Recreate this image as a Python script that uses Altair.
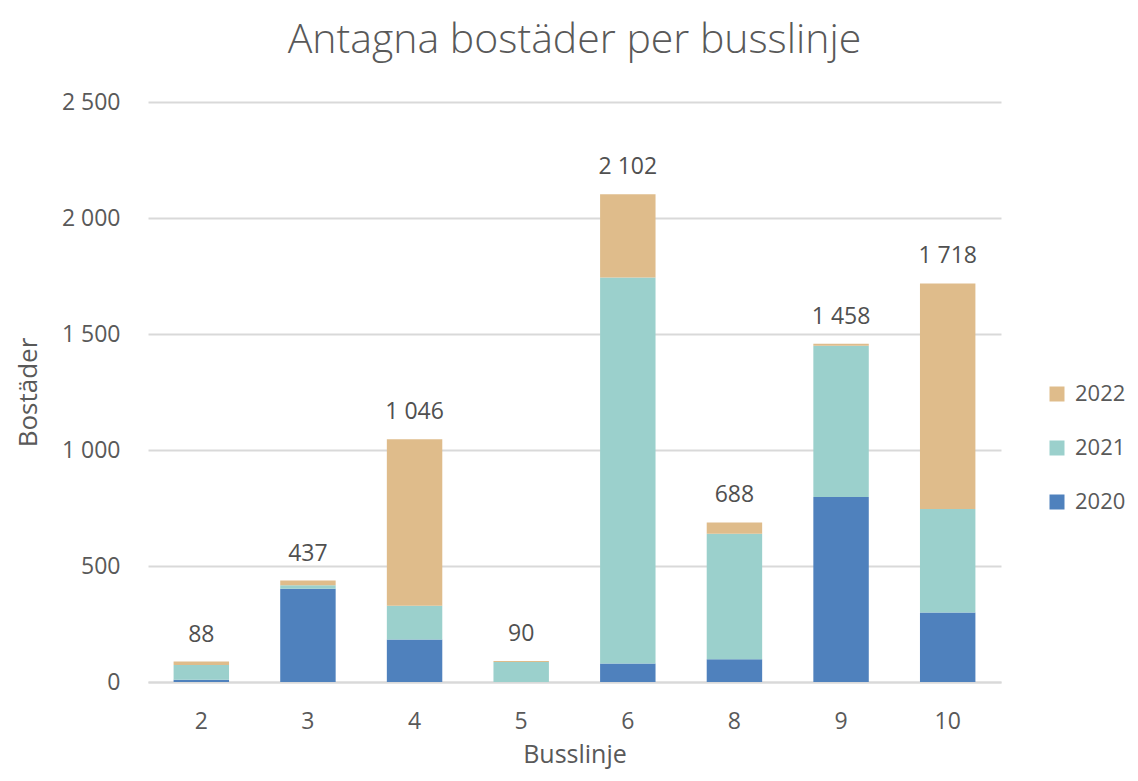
import altair as alt
import pandas as pd

lines = ["2", "3", "4", "5", "6", "8", "9", "10"]
years = ["2020", "2021", "2022"]
v2020 = [10, 402, 183, 0, 80, 98, 797, 300]
v2021 = [63, 15, 146, 86, 1664, 541, 652, 446]
v2022 = [15, 20, 717, 4, 358, 49, 9, 972]
colors = {"2020": "#4F81BD", "2021": "#9BD0CC", "2022": "#DFBC8B"}
yticks = [0, 500, 1000, 1500, 2000, 2500]

rows = []
for i, ln in enumerate(lines):
    for y, vals in zip(years, [v2020, v2021, v2022]):
        rows.append({"Busslinje": ln, "year": y, "value": vals[i], "ord": years.index(y)})
df = pd.DataFrame(rows)

FONT = "Open Sans"
GREY = "#595959"
legend_order = ["2022", "2021", "2020"]

xenc = alt.X("Busslinje:N", sort=lines,
             scale=alt.Scale(paddingInner=0.48, paddingOuter=0.24),
             axis=alt.Axis(title="Busslinje", labelAngle=0, labelFontSize=23,
                           titleFontSize=25, titleFontWeight="normal",
                           labelColor=GREY, titleColor=GREY, ticks=False,
                           labelPadding=28, titlePadding=9,
                           domainColor="#D9D9D9", domainWidth=2, grid=False,
                           labelFont=FONT, titleFont=FONT))

bars = alt.Chart(df).mark_bar().encode(
    x=xenc,
    y=alt.Y("value:Q", stack="zero",
            scale=alt.Scale(domain=[0, 2500], nice=False),
            axis=alt.Axis(title="Bostäder", values=yticks,
                          labelExpr="replace(format(datum.value, ','), regexp(',', 'g'), ' ')",
                          labelFontSize=23, titleFontSize=26, titleFontWeight="normal",
                          labelColor=GREY, titleColor=GREY, ticks=False, domain=False,
                          labelPadding=28, titlePadding=20,
                          gridColor="#D9D9D9", gridWidth=2,
                          labelFont=FONT, titleFont=FONT)),
    color=alt.Color("year:N",
                    scale=alt.Scale(domain=legend_order, range=[colors[y] for y in legend_order]),
                    legend=alt.Legend(title=None, orient="none", legendX=898, legendY=281,
                                      symbolType="square", symbolSize=225,
                                      symbolStrokeWidth=0, labelFontSize=22,
                                      labelColor=GREY, labelFont=FONT,
                                      rowPadding=32, labelOffset=7)),
    order=alt.Order("ord:Q", sort="ascending"),
)

labels = alt.Chart(df).transform_aggregate(
    total="sum(value)", groupby=["Busslinje"]
).transform_calculate(
    lab="replace(format(datum.total, ','), regexp(',', 'g'), ' ')"
).mark_text(fontSize=23, color="#505050", font=FONT, baseline="alphabetic", dy=-20).encode(
    x=alt.X("Busslinje:N", sort=lines),
    y=alt.Y("total:Q"),
    text="lab:N",
)

chart = alt.layer(bars, labels).properties(
    width=853, height=580,
    title=alt.TitleParams("Antagna bostäder per busslinje", fontSize=41,
                          fontWeight=300, color=GREY, font=FONT, offset=29,
                          anchor="middle"),
    autosize=alt.AutoSizeParams(type="none"),
    padding={"left": 140, "top": 94, "right": 129, "bottom": 91},
).configure_view(stroke=None)

chart.save("out.html", embed_options={"renderer": "svg", "actions": False})
